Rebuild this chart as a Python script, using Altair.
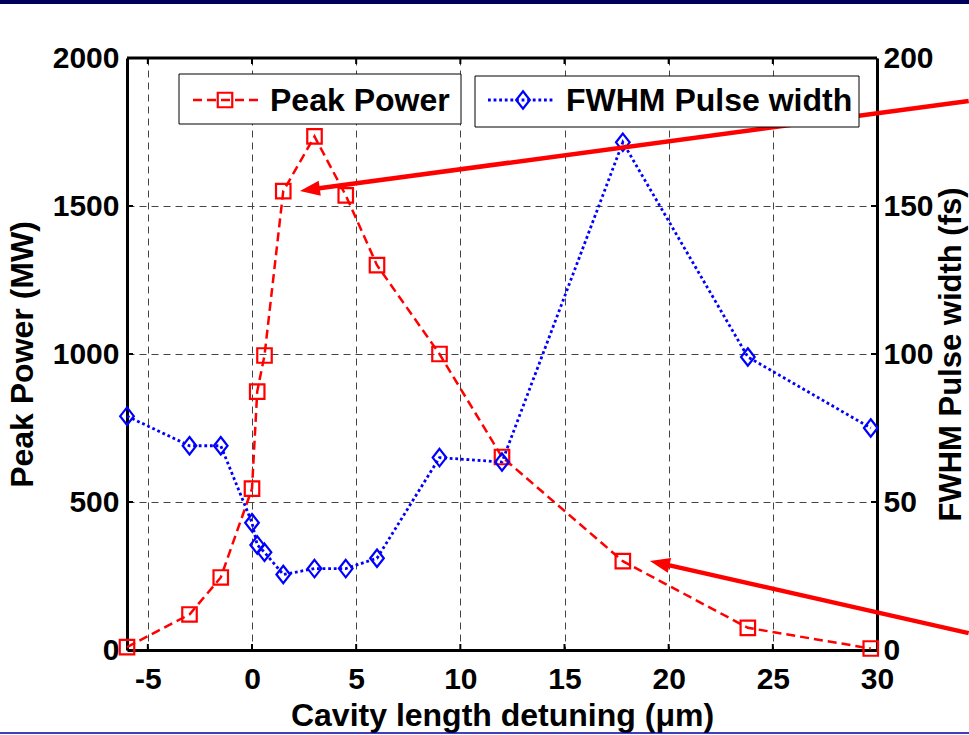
import math
import altair as alt
import pandas as pd

# ---------------- data ----------------
detuning = [-6, -3, -1.5, 0, 0.25, 0.6, 1.5, 3, 4.5, 6, 9, 12, 17.8, 23.8, 29.7]
peak_power = [10, 120, 245, 545, 873, 995, 1550, 1735, 1536, 1300, 1000, 652, 300, 75, 5]
fwhm_width = [79, 69, 69, 43, 35.5, 33, 25.5, 27.5, 27.5, 31, 65, 63.5, 171.5, 99, 75]

x_ticks = [-5, 0, 5, 10, 15, 20, 25, 30]
power_ticks = [0, 500, 1000, 1500, 2000]
fwhm_ticks = [0, 50, 100, 150, 200]
inner_x_ticks = [-5, 0, 5, 10, 15, 20, 25]
inner_y_ticks = [500, 1000, 1500]

# annotation arrows (detuning, peak power units)
arrow_tip_x = [2.3, 19.1]
arrow_tip_y = [1551, 301]
arrow_tail_x = [34.4, 34.4]
arrow_tail_y = [1855, 57]

legend_labels = ["Peak Power", "FWHM Pulse width"]
x_title = "Cavity length detuning (μm)"
yl_title = "Peak Power (MW)"
yr_title = "FWHM Pulse width (fs)"

# ---------------- layout / style ----------------
W, H = 750, 592
X_DOM = [-6, 30]
YL_DOM = [0, 2000]
YR_DOM = [0, 200]
RED = "#ff0000"
BLUE = "#0000ff"
FONT = "Liberation Sans"
FS = 30
TFS = 32
LFS = 32

def xs():
    return alt.Scale(domain=X_DOM, nice=False, zero=False)

def yls():
    return alt.Scale(domain=YL_DOM, nice=False, zero=False)

def yrs():
    return alt.Scale(domain=YR_DOM, nice=False, zero=False)

df = pd.DataFrame({"x": detuning, "power": peak_power, "fwhm": fwhm_width})
one = pd.DataFrame({"k": [0]})

grid_kw = dict(grid=True, gridDash=[7, 5], gridColor="#444444", gridWidth=1, gridOpacity=1)
ax_kw = dict(tickSize=0, domainWidth=3, domainColor="black", labelFont=FONT,
             labelFontSize=FS, labelFontWeight="bold", labelColor="black",
             titleFont=FONT, titleFontWeight="bold", titleColor="black",
             labelOverlap=False, labelFlush=False, labelExpr="datum.value + ''")

x_axis = alt.Axis(values=x_ticks, title=x_title, orient="bottom", labelPadding=14,
                  titleX=W / 2, titleY=65, titleBaseline="middle", titleAlign="center",
                  titleFontSize=TFS, **grid_kw, **ax_kw)
yl_axis = alt.Axis(values=power_ticks, title=yl_title, orient="left", labelPadding=8,
                   titleX=-105, titleY=H / 2, titleAngle=270, titleBaseline="middle",
                   titleAlign="center", titleFontSize=TFS, **grid_kw, **ax_kw)
yr_axis = alt.Axis(values=fwhm_ticks, title=yr_title, orient="right", labelPadding=6,
                   titleX=74, titleY=H / 2, titleAngle=270, titleBaseline="middle",
                   titleAlign="center", titleFontSize=31, grid=False, **ax_kw)

def X(field):
    # every layer carries the same x axis definition so the shared axis survives merging
    return alt.X(field, scale=xs(), axis=x_axis)

# ---- inward ticks and top border ----
tick_x_df = pd.DataFrame({"x": inner_x_ticks})
tick_y_df = pd.DataFrame({"power": inner_y_ticks})
ticks_bottom = alt.Chart(tick_x_df).mark_rule(color="black", strokeWidth=2).encode(
    x=X("x:Q"), y=alt.value(H), y2=alt.value(H - 6))
ticks_top = alt.Chart(tick_x_df).mark_rule(color="black", strokeWidth=2).encode(
    x=X("x:Q"), y=alt.value(0), y2=alt.value(6))
ticks_left = alt.Chart(tick_y_df).mark_rule(color="black", strokeWidth=2).encode(
    y=alt.Y("power:Q", scale=yls(), axis=None), x=alt.value(0), x2=alt.value(6))
ticks_right = alt.Chart(tick_y_df).mark_rule(color="black", strokeWidth=2).encode(
    y=alt.Y("power:Q", scale=yls(), axis=None), x=alt.value(W), x2=alt.value(W - 6))
top_border = alt.Chart(one).mark_rule(color="black", strokeWidth=3).encode(
    x=alt.value(0), x2=alt.value(W), y=alt.value(0))

# ---- series ----
power_line = alt.Chart(df).mark_line(color=RED, strokeWidth=2.5, strokeDash=[9, 5]).encode(
    x=X("x:Q"), y=alt.Y("power:Q", scale=yls(), axis=yl_axis))
power_pts = alt.Chart(df).mark_point(shape="square", filled=False, color=RED,
                                     strokeWidth=2.2, size=210, opacity=1).encode(
    x=X("x:Q"), y=alt.Y("power:Q", scale=yls(), axis=None))
fwhm_line = alt.Chart(df).mark_line(color=BLUE, strokeWidth=2.8, strokeDash=[2.8, 2.8]).encode(
    x=X("x:Q"), y=alt.Y("fwhm:Q", scale=yrs(), axis=yr_axis))
fwhm_pts = alt.Chart(df).mark_point(shape="M0,-1.15L0.9,0L0,1.15L-0.9,0Z", filled=False,
                                    color=BLUE, strokeWidth=2.2, size=230, opacity=1).encode(
    x=X("x:Q"), y=alt.Y("fwhm:Q", scale=yrs(), axis=None))

# ---- arrows ----
pxx = W / (X_DOM[1] - X_DOM[0])
pxy = H / (YL_DOM[1] - YL_DOM[0])
rows = []
for tx, ty, sx, sy in zip(arrow_tip_x, arrow_tip_y, arrow_tail_x, arrow_tail_y):
    dx = (sx - tx) * pxx
    dy = -(sy - ty) * pxy
    L = math.hypot(dx, dy)
    ang = math.degrees(math.atan2(dy, dx)) % 360
    back = 10.0  # start line under the head
    lx = tx + dx / L * back / pxx
    ly = ty - dy / L * back / pxy
    rows.append({"tx": tx, "ty": ty, "lx": lx, "ly": ly, "sx": sx, "sy": sy, "ang": ang})
arr = pd.DataFrame(rows)
arrow_lines = alt.Chart(arr).mark_rule(color=RED, strokeWidth=4.5).encode(
    x=X("lx:Q"), x2="sx:Q",
    y=alt.Y("ly:Q", scale=yls(), axis=None), y2="sy:Q")
arrow_heads = alt.Chart(arr).mark_point(shape="M0,0L2,-0.75L2,0.75Z", filled=True,
                                        color=RED, size=400, opacity=1).encode(
    x=X("tx:Q"),
    y=alt.Y("ty:Q", scale=yls(), axis=None),
    angle=alt.Angle("ang:Q", scale=None))

# ---- legends (two boxed entries) ----
def legend_item(x0, x1, y0, y1, lx0, lx1, mx, tx, color, dash, width, shape, msize, text):
    box = alt.Chart(one).mark_rect(fill="white", stroke="black", strokeWidth=1).encode(
        x=alt.value(x0), x2=alt.value(x1), y=alt.value(y0), y2=alt.value(y1))
    ln = alt.Chart(one).mark_rule(color=color, strokeWidth=width, strokeDash=dash).encode(
        x=alt.value(lx0), x2=alt.value(lx1), y=alt.value(42))
    mk = alt.Chart(one).mark_point(shape=shape, filled=False, color=color, strokeWidth=2.2,
                                   size=msize, opacity=1).encode(
        x=alt.value(mx), y=alt.value(42))
    tt = alt.Chart(one).mark_text(text=text, align="left", baseline="middle", font=FONT,
                                  fontSize=LFS, fontWeight="bold", color="black").encode(
        x=alt.value(tx), y=alt.value(43))
    return [box, ln, mk, tt]

leg = legend_item(52, 334, 16, 66, 66, 131, 98, 143, RED, [9, 5], 2.5, "square", 210,
                  legend_labels[0]) + \
      legend_item(348, 732, 18, 69, 361, 428, 396, 439, BLUE, [2.8, 2.8], 2.8,
                  "M0,-1.15L0.9,0L0,1.15L-0.9,0Z", 230, legend_labels[1])

# ---- slide decoration ----
deco_top = alt.Chart(one).mark_rule(color="#00005a", strokeWidth=4).encode(
    x=alt.value(-127), x2=alt.value(842), y=alt.value(-56))
deco_bot = alt.Chart(one).mark_rule(color="#0000a0", strokeWidth=1.5).encode(
    x=alt.value(-127), x2=alt.value(842), y=alt.value(675))

chart = alt.layer(
    power_line, fwhm_line,
    ticks_bottom, ticks_top, ticks_left, ticks_right, top_border,
    power_pts, fwhm_pts,
    arrow_lines, arrow_heads,
    *leg, deco_top, deco_bot,
).resolve_scale(
    y="independent"
).properties(
    width=W, height=H,
    padding={"left": 127, "top": 58, "right": 92, "bottom": 85},
    autosize=alt.AutoSizeParams(type="none"),
    background="white",
).configure_view(stroke=None)

chart.save("out.html", embed_options={"renderer": "svg", "actions": False})
